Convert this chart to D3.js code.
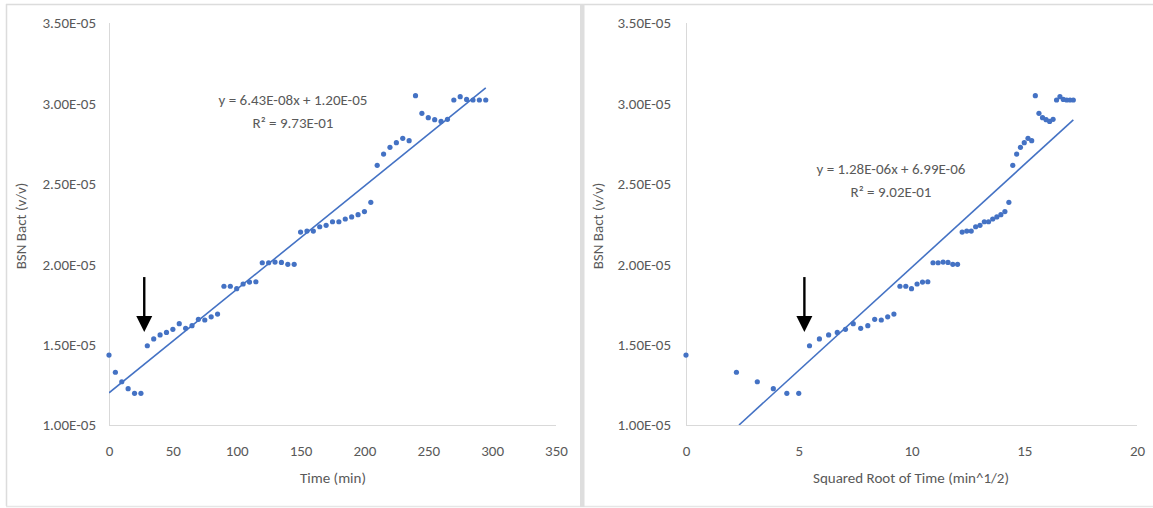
<!DOCTYPE html>
<html>
<head>
<meta charset="utf-8">
<script src="https://cdn.jsdelivr.net/npm/d3@7/dist/d3.min.js"></script>
<style>
  html, body { margin: 0; padding: 0; background: #fff; }
  svg { display: block; }
  text { font-family: Carlito, "Liberation Sans Narrow", "Arial Narrow", "Liberation Sans", sans-serif; fill: #595959; }
</style>
</head>
<body>
<svg id="chart" width="1153" height="508"></svg>
<script>
// ---- data ----
const timeMin = [0,5,10,15,20,25,30,35,40,45,50,55,60,65,70,75,80,85,90,95,
  100,105,110,115,120,125,130,135,140,145,150,155,160,165,170,175,180,185,190,195,
  200,205,210,215,220,225,230,235,240,245,250,255,260,265,270,275,280,285,290,295];
const sqrtTime = [0,2.236,3.162,3.873,4.472,5.000,5.477,5.916,6.325,6.708,7.071,7.416,7.746,8.062,8.367,8.660,8.944,9.220,9.487,9.747,
  10.000,10.247,10.488,10.724,10.954,11.180,11.402,11.619,11.832,12.042,12.247,12.450,12.649,12.845,13.038,13.229,13.416,13.601,13.784,13.964,
  14.142,14.318,14.491,14.663,14.832,15.000,15.166,15.330,15.492,15.652,15.811,15.969,16.125,16.279,16.432,16.583,16.733,16.882,17.029,17.176];
const bsnBact = [1.435e-5,1.328e-5,1.269e-5,1.226e-5,1.197e-5,1.197e-5,1.493e-5,1.535e-5,1.560e-5,1.576e-5,
  1.595e-5,1.630e-5,1.601e-5,1.618e-5,1.657e-5,1.653e-5,1.673e-5,1.690e-5,1.863e-5,1.863e-5,
  1.848e-5,1.877e-5,1.889e-5,1.891e-5,2.009e-5,2.009e-5,2.013e-5,2.011e-5,1.999e-5,1.999e-5,
  2.200e-5,2.206e-5,2.206e-5,2.233e-5,2.242e-5,2.264e-5,2.264e-5,2.281e-5,2.294e-5,2.308e-5,
  2.327e-5,2.385e-5,2.615e-5,2.685e-5,2.727e-5,2.756e-5,2.783e-5,2.768e-5,3.048e-5,2.938e-5,
  2.911e-5,2.899e-5,2.888e-5,2.901e-5,3.021e-5,3.042e-5,3.025e-5,3.021e-5,3.021e-5,3.021e-5];

const yTickValues = [1.0e-5,1.5e-5,2.0e-5,2.5e-5,3.0e-5,3.5e-5];
const yTickLabels = ["1.00E-05","1.50E-05","2.00E-05","2.50E-05","3.00E-05","3.50E-05"];
const xTicksLeft = [0,50,100,150,200,250,300,350];
const xTicksRight = [0,5,10,15,20];

const fitLeft = { slope: 6.43e-8, intercept: 1.20e-5 };
const fitRight = { slope: 1.28e-6, intercept: 6.99e-6 };
const eqLeft = ["y = 6.43E-08x + 1.20E-05", "R² = 9.73E-01"];
const eqRight = ["y = 1.28E-06x + 6.99E-06", "R² = 9.02E-01"];

// annotation arrows (data coords): x, y top, y tip
const arrowLeft = { x: 27.6, yTop: 1.92e-5, yTip: 1.578e-5 };
const arrowRight = { x: 5.25, yTop: 1.92e-5, yTip: 1.578e-5 };

// ---- drawing ----
const svg = d3.select("#chart");
const BLUE = "#4472C4";
const GRID = "#d9d9d9";

// outer frame
svg.append("line").attr("x1", 6).attr("x2", 1153).attr("y1", 4.5).attr("y2", 4.5).attr("stroke", "#dcdcdc").attr("stroke-width", 1.5);
svg.append("line").attr("x1", 6.5).attr("x2", 6.5).attr("y1", 4).attr("y2", 506).attr("stroke", "#dcdcdc").attr("stroke-width", 1.5);
svg.append("line").attr("x1", 6).attr("x2", 1153).attr("y1", 506.5).attr("y2", 506.5).attr("stroke", "#e6e6e6").attr("stroke-width", 1.5);
svg.append("rect").attr("x", 580).attr("y", 4).attr("width", 4.5).attr("height", 503).attr("fill", "#dedede");

const yScale = d3.scaleLinear().domain([1e-5, 3.5e-5]).range([425, 23]);
const FS = 15;

function panel(opts) {
  const g = svg.append("g");
  const x = d3.scaleLinear().domain(opts.xDomain).range(opts.xRange);
  const y = yScale;
  const clipId = opts.id + "-clip";
  svg.append("defs").append("clipPath").attr("id", clipId)
    .append("rect").attr("x", opts.xRange[0]).attr("y", y.range()[1])
    .attr("width", opts.xRange[1] - opts.xRange[0]).attr("height", y.range()[0] - y.range()[1]);

  // axis lines
  g.append("line").attr("x1", x(opts.xDomain[0]) + 0.5).attr("x2", x(opts.xDomain[0]) + 0.5)
    .attr("y1", y(3.5e-5)).attr("y2", y(1e-5)).attr("stroke", GRID).attr("stroke-width", 1);
  g.append("line").attr("x1", x(opts.xDomain[0])).attr("x2", x(opts.xDomain[1]))
    .attr("y1", y(1e-5) + 0.5).attr("y2", y(1e-5) + 0.5).attr("stroke", GRID).attr("stroke-width", 1);

  // y ticks
  const yAxis = d3.axisLeft(y).tickValues(yTickValues)
    .tickFormat((d, i) => yTickLabels[i]).tickSize(0).tickPadding(opts.yPad);
  const ya = g.append("g").attr("transform", `translate(${x(opts.xDomain[0])},0)`).call(yAxis);
  ya.select(".domain").remove();
  ya.selectAll("text").attr("font-size", FS).attr("fill", "#595959");
  ya.attr("font-family", null);

  // x ticks
  const xAxis = d3.axisBottom(x).tickValues(opts.xTicks).tickFormat(d3.format("d")).tickSize(0).tickPadding(20);
  const xa = g.append("g").attr("transform", `translate(0,${y(1e-5)})`).call(xAxis);
  xa.select(".domain").remove();
  xa.selectAll("text").attr("font-size", FS).attr("fill", "#595959");
  xa.attr("font-family", null);

  // axis titles
  g.append("text").attr("transform", `translate(${opts.yTitleX},${(y(1e-5) + y(3.5e-5)) / 2 + 2}) rotate(-90)`)
    .attr("text-anchor", "middle").attr("dominant-baseline", "middle")
    .attr("font-size", 15).text("BSN Bact (v/v)");
  g.append("text").attr("x", opts.xTitleX).attr("y", 479)
    .attr("text-anchor", "middle").attr("dominant-baseline", "middle")
    .attr("font-size", FS).text(opts.xTitle);

  // trendline
  const x0 = Math.max(opts.xs[0], (1e-5 - opts.fit.intercept) / opts.fit.slope);
  const x1 = d3.max(opts.xs);
  g.append("line").attr("clip-path", `url(#${clipId})`)
    .attr("x1", x(x0)).attr("y1", y(opts.fit.slope * x0 + opts.fit.intercept))
    .attr("x2", x(x1)).attr("y2", y(opts.fit.slope * x1 + opts.fit.intercept))
    .attr("stroke", BLUE).attr("stroke-width", 1.6);

  // points
  g.append("g").selectAll("circle").data(opts.xs.map((d, i) => [d, bsnBact[i]]))
    .join("circle").attr("cx", d => x(d[0])).attr("cy", d => y(d[1]))
    .attr("r", 2.6).attr("fill", BLUE);

  // equation
  g.append("text").attr("x", opts.eqX).attr("y", opts.eqY).attr("text-anchor", "middle")
    .attr("dominant-baseline", "middle").attr("font-size", FS).text(opts.eq[0]);
  g.append("text").attr("x", opts.eqX).attr("y", opts.eqY + 23.5).attr("text-anchor", "middle")
    .attr("dominant-baseline", "middle").attr("font-size", FS).text(opts.eq[1]);

  // arrow
  const ax = x(opts.arrow.x), aTop = y(opts.arrow.yTop), aTip = y(opts.arrow.yTip);
  g.append("line").attr("x1", ax).attr("x2", ax).attr("y1", aTop).attr("y2", aTip - 12)
    .attr("stroke", "#000").attr("stroke-width", 2.4);
  g.append("path").attr("d", `M${ax - 8},${aTip - 16} L${ax + 8},${aTip - 16} L${ax},${aTip} Z`).attr("fill", "#000");
}

panel({
  id: "left", xDomain: [0, 350], xRange: [109, 556], xTicks: xTicksLeft, xs: timeMin,
  yPad: 13, yTitleX: 22, xTitleX: 333, xTitle: "Time (min)",
  fit: fitLeft, eq: eqLeft, eqX: 293, eqY: 101, arrow: arrowLeft
});
panel({
  id: "right", xDomain: [0, 20], xRange: [686, 1137], xTicks: xTicksRight, xs: sqrtTime,
  yPad: 15, yTitleX: 599, xTitleX: 911, xTitle: "Squared Root of Time (min^1/2)",
  fit: fitRight, eq: eqRight, eqX: 891, eqY: 170, arrow: arrowRight
});
</script>
</body>
</html>
